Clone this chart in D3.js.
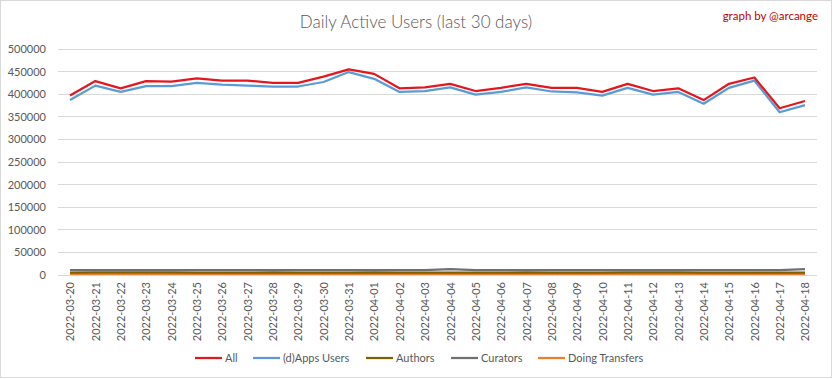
<!DOCTYPE html>
<html><head><meta charset="utf-8">
<script src="https://cdn.jsdelivr.net/npm/d3@7"></script>
<style>body{margin:0;background:#fff}svg{display:block}text{font-family:Lato,"Open Sans",sans-serif}</style>
</head><body><svg id="c" width="833" height="379"></svg>
<script>
const dates = ["2022-03-20","2022-03-21","2022-03-22","2022-03-23","2022-03-24","2022-03-25","2022-03-26","2022-03-27","2022-03-28","2022-03-29","2022-03-30","2022-03-31","2022-04-01","2022-04-02","2022-04-03","2022-04-04","2022-04-05","2022-04-06","2022-04-07","2022-04-08","2022-04-09","2022-04-10","2022-04-11","2022-04-12","2022-04-13","2022-04-14","2022-04-15","2022-04-16","2022-04-17","2022-04-18"];
const allUsers = [397000,429000,413000,429000,428000,435000,430000,430000,425000,425000,439000,455000,445000,413000,415000,423000,407000,414000,423000,414000,414000,405000,423000,407000,413000,387000,423000,437000,369000,385000];
const appsUsers = [387000,419000,405000,418000,418000,425000,421000,419000,417000,417000,427000,449000,434000,405000,407000,415000,399000,405000,415000,406000,404000,397000,414000,399000,405000,379000,414000,430000,360000,376000];
const authors = [5000,6000,6000,6000,6000,5000,5000,5000,6000,5000,5000,5000,6000,5000,5000,5000,5000,5000,6000,5000,5000,5000,6000,6000,6000,5000,5000,5000,5000,5000];
const curators = [11000,11000,11000,11000,11000,11000,11000,11000,11000,11000,11000,11000,11000,11000,11000,13000,11000,11000,11000,11000,11000,11000,11000,11000,11000,11000,11000,11000,11000,13000];
const transfers = [2500,2500,2500,2500,2500,2500,2500,2500,2500,2500,2500,2500,2500,2500,2500,2500,2500,2500,2500,2500,2500,2500,2500,2500,2500,2500,2500,2500,2500,2500];
const yTicks = [0,50000,100000,150000,200000,250000,300000,350000,400000,450000,500000];
const seriesNames = ["All","(d)Apps Users","Authors","Curators","Doing Transfers"];
const seriesColors = ["#e3181f","#5b9bd5","#7f6000","#707070","#ed7d31"];

const svg = d3.select("#c");
const W = 833, H = 379;
svg.append("rect").attr("x",0.5).attr("y",0.5).attr("width",W-2).attr("height",H-2).attr("fill","#fff").attr("stroke","#d9d9d9");

const x = d3.scalePoint().domain(dates).range([70,805]);
const y = d3.scaleLinear().domain([0,500000]).range([275,49]);

svg.append("g").selectAll("line").data(yTicks).join("line")
  .attr("x1",58).attr("x2",817).attr("y1",d=>y(d)).attr("y2",d=>y(d))
  .attr("stroke","#d9d9d9").attr("stroke-width",1).attr("shape-rendering","crispEdges");

const ya = svg.append("g").attr("transform","translate(58,0)")
  .call(d3.axisLeft(y).tickValues(yTicks).tickSize(0).tickPadding(12).tickFormat(d3.format("d")));
ya.select(".domain").remove();
ya.selectAll("text").attr("fill","#595959").style("font-size","11px").style("font-family","Lato, sans-serif");

const xa = svg.append("g").attr("transform","translate(0,275)")
  .call(d3.axisBottom(x).tickSize(0).tickPadding(0));
xa.select(".domain").remove();
xa.selectAll("text").attr("fill","#595959").style("font-size","11px").style("font-family","Lato, sans-serif")
  .attr("text-anchor","end").attr("transform","translate(0,7) rotate(-90)").attr("dx",0).attr("dy","0.35em").attr("y",0).attr("x",0);

const data = [allUsers, appsUsers, authors, curators, transfers];
const line = d3.line().x((d,i)=>x(dates[i])).y(d=>y(d));
const order = [4,2,3,1,0];
order.forEach(k=>{
  svg.append("path").datum(data[k]).attr("d",line).attr("fill","none")
    .attr("stroke",seriesColors[k]).attr("stroke-width",2.25).attr("stroke-linejoin","round");
});

svg.append("text").attr("x",416).attr("y",28).attr("text-anchor","middle")
  .attr("fill","#595959").style("font-size","17px").style("font-weight","300").text("Daily Active Users (last 30 days)");
svg.append("text").attr("x",818).attr("y",20).attr("text-anchor","end")
  .attr("fill","#c00000").style("font-size","11.5px").text("graph by @arcange");

const legX = [195,253,366,451,538];
const lg = svg.append("g");
seriesNames.forEach((n,i)=>{
  lg.append("line").attr("x1",legX[i]).attr("x2",legX[i]+27).attr("y1",358).attr("y2",358)
    .attr("stroke",seriesColors[i]).attr("stroke-width",2.25);
  lg.append("text").attr("x",legX[i]+30).attr("y",358).attr("dy","0.35em")
    .attr("fill","#595959").style("font-size","11px").text(n);
});
</script></body></html>
